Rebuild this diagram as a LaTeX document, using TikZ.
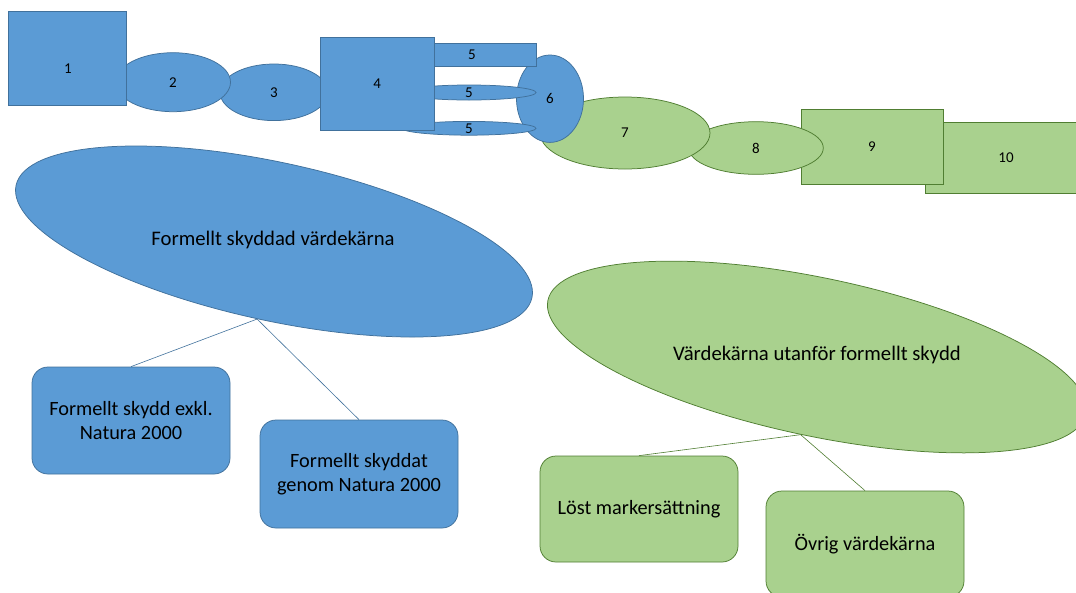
\documentclass[tikz,border=0pt]{standalone}
\usepackage{fontspec}
\setmainfont{Carlito}
\usetikzlibrary{shapes.geometric}
\definecolor{kblue}{HTML}{5B9BD5}
\definecolor{kblueline}{HTML}{41719C}
\definecolor{kgreen}{HTML}{A9D18E}
\definecolor{kgreenline}{HTML}{507E32}

\begin{document}
\begin{tikzpicture}[x=1pt,y=-1pt,
    bluepart/.style={fill=kblue,draw=kblueline,line width=.75pt,inner sep=0pt},
    greenpart/.style={fill=kgreen,draw=kgreenline,line width=.75pt,inner sep=0pt},
    num/.style={font=\fontsize{15}{17}\selectfont},
    bigtext/.style={font=\fontsize{20.7}{24}\selectfont},
    card/.style={rounded corners=16pt,minimum width=198pt,align=center,
      font=\fontsize{20.3}{24}\selectfont},
    link/.style={line width=.6pt}]
  \useasboundingbox (0,0) rectangle (1076,592);
  \clip (0,0) rectangle (1076,592);
  % top row, drawn from the back to the front
  \node[greenpart,num,minimum width=162pt,minimum height=71pt] (s10) at (1006,157.5) {10};
  \node[greenpart,num,minimum width=142pt,minimum height=74.5pt] (s9) at (872,146.8) {9};
  \node[greenpart,num,ellipse,minimum width=134.6pt,minimum height=52.6pt] (s8) at (756,148) {8};
  \node[greenpart,num,ellipse,minimum width=170pt,minimum height=72pt] (s7) at (625,133) {7};
  \node[bluepart,num,ellipse,minimum width=67pt,minimum height=87.4pt] (s6) at (550,98.7) {6};
  \node[bluepart,num,ellipse,minimum width=108pt,minimum height=56.6pt] (s3) at (274,92.3) {3};
  \node[bluepart,num,ellipse,minimum width=134pt,minimum height=10.4pt] (s5c) at (469,128.3) {5};
  \node[bluepart,num,ellipse,minimum width=134pt,minimum height=15pt] (s5b) at (469,92.5) {5};
  \node[bluepart,num,minimum width=128pt,minimum height=22.7pt] (s5a) at (472,54.7) {5};
  \node[bluepart,num,minimum width=114.4pt,minimum height=92.7pt] (s4) at (377.2,83.7) {4};
  \node[bluepart,num,ellipse,minimum width=115pt,minimum height=59pt] (s2) at (173,82.2) {2};
  \node[bluepart,minimum width=118.3pt,minimum height=94pt] (s1) at (67.5,58.7) {};
  \node[num] (s1text) at (68,69) {1};

  % the two tilted groups
  \node[bluepart,ellipse,minimum width=528pt,minimum height=158pt,rotate=-12.3] (skyddad) at (274,241.5) {};
  \node[bigtext] (skyddadtext) at (273,240) {Formellt skyddad värdekärna};
  \node[greenpart,ellipse,minimum width=550pt,minimum height=158pt,rotate=-11.9] (utanfor) at (817,357) {};
  \node[bigtext] (utanfortext) at (817,355) {Värdekärna utanför formellt skydd};

  \node[bluepart,card,minimum height=107pt] (exkl) at (131,420.5) {Formellt skydd exkl.\\Natura 2000};
  \node[bluepart,card,minimum height=108pt] (genom) at (359,474) {Formellt skyddat\\genom Natura 2000};
  \node[greenpart,card,minimum height=106pt] (lost) at (639,509) {Löst markersättning};
  \node[greenpart,card,minimum height=106pt] (ovrig) at (865,544) {Övrig värdekärna};

  \draw[link,kblueline] (skyddad.south) -- (exkl.north);
  \draw[link,kblueline] (skyddad.south) -- (genom.north);
  \draw[link,kgreenline] (utanfor.south) -- (lost.north);
  \draw[link,kgreenline] (utanfor.south) -- (ovrig.north);
\end{tikzpicture}
\end{document}
